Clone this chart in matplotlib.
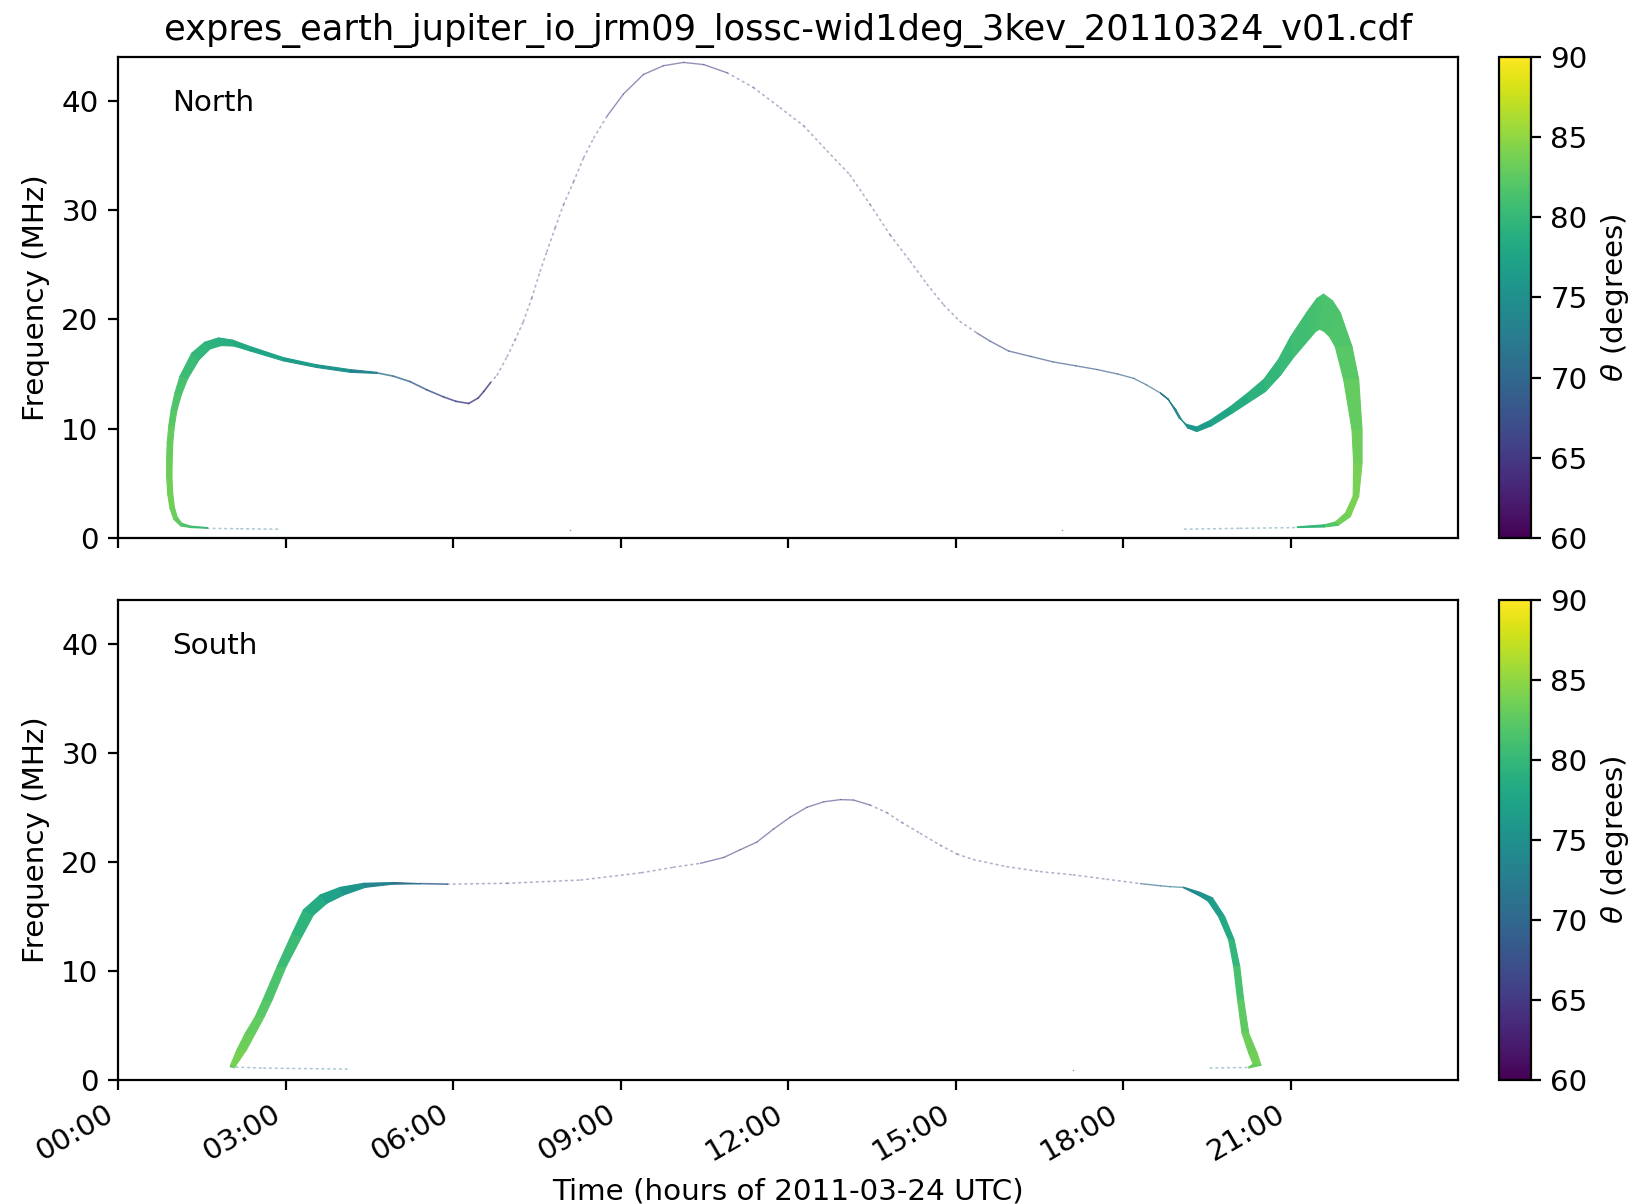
import numpy as np
import matplotlib
matplotlib.use("Agg")
from matplotlib import pyplot as plt
from matplotlib.collections import PolyCollection, LineCollection
from matplotlib.colors import Normalize

plt.rcParams["font.size"] = 10.6

titulo = "expres_earth_jupiter_io_jrm09_lossc-wid1deg_3kev_20110324_v01.cdf"
horas_ticks = [0, 3, 6, 9, 12, 15, 18, 21]
etiquetas_ticks = ["%02d:00" % h for h in horas_ticks]

# ---------------- Hemisferio norte ----------------
# banda ancha izquierda: borde exterior / borde interior (hora UTC, MHz) y theta (grados)
n1_ext_t = [1.60, 1.30, 1.12, 1.00, 0.93, 0.89, 0.87, 0.87, 0.88, 0.91, 0.95, 1.02, 1.11, 1.32, 1.55, 1.80, 2.05, 2.37, 2.96, 3.55, 4.16, 4.64]
n1_ext_f = [0.88, 0.95, 1.10, 1.70, 2.70, 4.00, 5.60, 7.20, 8.70, 10.3, 11.7, 13.3, 14.8, 16.9, 17.9, 18.3, 18.1, 17.5, 16.5, 15.85, 15.4, 15.15]
n1_int_t = [1.60, 1.30, 1.14, 1.06, 1.01, 0.98, 0.965, 0.97, 0.98, 1.01, 1.055, 1.14, 1.25, 1.45, 1.65, 1.85, 2.08, 2.37, 2.96, 3.55, 4.16, 4.64]
n1_int_f = [0.95, 1.08, 1.35, 1.90, 2.80, 4.00, 5.60, 7.20, 8.70, 10.3, 11.7, 13.2, 14.6, 16.3, 17.3, 17.6, 17.55, 17.1, 16.2, 15.6, 15.15, 15.05]
n1_theta = [80, 81, 82, 83, 83.5, 83.5, 83.5, 83, 83, 82.5, 82, 81.5, 81, 80, 79.5, 79, 78.5, 78, 77, 76, 75, 72]

# banda ancha derecha
n2_ext_t = [18.67, 18.80, 18.90, 19.00, 19.13, 19.32, 19.56, 19.92, 20.22, 20.52, 20.78, 21.00, 21.30, 21.47, 21.59, 21.75, 21.89, 22.10, 22.22, 22.28, 22.28, 22.22, 22.07, 21.85, 21.60, 21.12]
n2_ext_f = [13.28, 12.75, 11.9, 11.0, 10.4, 10.15, 10.75, 12.0, 13.2, 14.5, 16.3, 18.4, 20.7, 21.9, 22.3, 21.7, 20.6, 17.5, 14.5, 9.9, 6.8, 3.8, 1.95, 1.15, 1.00, 0.95]
n2_int_t = [18.67, 18.82, 18.95, 19.05, 19.16, 19.32, 19.58, 19.95, 20.25, 20.55, 20.82, 21.05, 21.35, 21.45, 21.52, 21.60, 21.70, 21.80, 21.95, 22.10, 22.13, 22.12, 21.98, 21.80, 21.60, 21.12]
n2_int_f = [13.22, 12.6, 11.7, 10.8, 10.05, 9.73, 10.25, 11.4, 12.4, 13.4, 14.9, 16.5, 18.3, 18.9, 19.1, 18.9, 18.4, 17.5, 14.5, 9.9, 6.8, 3.8, 2.26, 1.45, 1.20, 1.02]
n2_theta = [71, 72.5, 73.5, 74.5, 75.5, 76, 77, 78, 79, 79.5, 80, 80.5, 81, 81, 81.5, 81.5, 81.5, 82, 82.5, 83, 83.5, 84, 84, 83, 81, 79]

# traza fina continua
n_fina_t = [4.64, 4.93, 5.23, 5.53, 5.83, 6.05, 6.28, 6.45, 6.55, 6.67]
n_fina_f = [15.1, 14.8, 14.3, 13.55, 12.9, 12.5, 12.3, 12.8, 13.4, 14.2]
n_fina_theta = [72, 70, 69, 68, 67, 66, 65.5, 65.5, 65, 65]

n_pico_t = [8.76, 9.05, 9.41, 9.77, 10.13, 10.49, 10.91]
n_pico_f = [38.6, 40.6, 42.4, 43.2, 43.5, 43.3, 42.55]
n_pico_theta = [64, 64, 64, 64, 64, 64, 64]

n_meseta_t = [15.38, 15.62, 15.95, 16.35, 16.75, 17.15, 17.54, 17.90, 18.19, 18.42, 18.67]
n_meseta_f = [18.75, 18.0, 17.1, 16.6, 16.1, 15.75, 15.4, 15.0, 14.6, 14.0, 13.25]
n_meseta_theta = [67, 67, 67, 67.5, 68, 68, 68.5, 69, 69.5, 70, 71]

# traza punteada (pocos puntos por encima del umbral)
n_punt1_t = [6.67, 6.79, 6.97, 7.11, 7.26, 7.41, 7.56, 7.68, 7.83, 7.98, 8.16, 8.34, 8.52, 8.76]
n_punt1_f = [14.2, 14.9, 16.6, 18.1, 19.8, 21.95, 24.4, 26.2, 28.4, 30.5, 32.6, 34.8, 36.6, 38.6]
n_punt2_t = [10.91, 11.38, 11.86, 12.28, 12.70, 13.11, 13.47, 13.83, 14.19, 14.49, 14.79, 15.08, 15.38]
n_punt2_f = [42.55, 41.2, 39.35, 37.7, 35.4, 33.2, 30.5, 27.7, 25.3, 23.2, 21.3, 19.8, 18.75]
n_cola1_t = [1.60, 2.20, 2.90]
n_cola1_f = [0.88, 0.84, 0.80]
n_cola2_t = [19.10, 20.10, 21.12]
n_cola2_f = [0.80, 0.88, 0.95]

# ---------------- Hemisferio sur ----------------
s1_ext_t = [2.01, 2.13, 2.28, 2.46, 2.595, 2.85, 3.12, 3.32, 3.62, 3.98, 4.40, 4.93, 5.41]
s1_ext_f = [1.30, 2.77, 4.29, 5.82, 7.34, 10.4, 13.45, 15.59, 16.96, 17.66, 18.03, 18.10, 18.00]
s1_int_t = [2.08, 2.30, 2.46, 2.62, 2.76, 3.01, 3.29, 3.50, 3.74, 4.04, 4.43, 4.93, 5.41]
s1_int_f = [1.10, 2.77, 4.29, 5.82, 7.34, 10.4, 13.14, 15.13, 16.20, 16.96, 17.66, 17.95, 17.98]
s1_theta = [84, 83.5, 83, 82.5, 82, 81, 80, 79, 78, 76.5, 75, 72, 70]

s2_ext_t = [19.08, 19.38, 19.60, 19.82, 19.99, 20.09, 20.16, 20.25, 20.40, 20.47, 20.25]
s2_ext_f = [17.68, 17.20, 16.70, 14.97, 12.84, 10.40, 7.34, 4.29, 2.46, 1.35, 1.10]
s2_int_t = [19.08, 19.36, 19.52, 19.71, 19.89, 19.98, 20.05, 20.13, 20.25, 20.33, 20.25]
s2_int_f = [17.62, 16.90, 16.40, 14.97, 12.84, 10.40, 7.34, 4.29, 2.46, 1.45, 1.20]
s2_theta = [73, 75, 76, 77.5, 79, 80.5, 82, 83, 83.5, 83.5, 82]

s_fina_t = [5.41, 5.90]
s_fina_f = [18.0, 17.95]
s_fina_theta = [70, 68]

s_pico_t = [10.43, 10.85, 11.14, 11.44, 11.74, 12.04, 12.34, 12.64, 12.94, 13.17, 13.47]
s_pico_f = [19.86, 20.4, 21.1, 21.8, 23.0, 24.1, 25.0, 25.5, 25.7, 25.66, 25.2]
s_pico_theta = [64] * len(s_pico_t)

s_meseta_t = [18.31, 18.67, 18.84, 19.08]
s_meseta_f = [18.0, 17.8, 17.72, 17.65]
s_meseta_theta = [69, 71, 72, 73]

s_punt1_t = [5.90, 6.97, 8.29, 9.38, 9.95, 10.43]
s_punt1_f = [17.95, 18.03, 18.33, 19.0, 19.5, 19.86]
s_punt2_t = [13.47, 13.77, 14.04, 14.37, 14.73, 15.03, 15.32, 15.92, 16.52, 17.11, 17.71, 18.31]
s_punt2_f = [25.2, 24.5, 23.6, 22.6, 21.5, 20.7, 20.2, 19.55, 19.1, 18.8, 18.4, 18.0]
s_cola1_t = [2.01, 2.61, 4.10]
s_cola1_f = [1.20, 1.09, 1.00]
s_cola2_t = [19.56, 20.25]
s_cola2_f = [1.10, 1.15]

# puntos sueltos cerca de 0 MHz
sueltos_n_t = [8.10, 16.90]
sueltos_n_f = [0.76, 0.76]
sueltos_s_t = [17.10]
sueltos_s_f = [0.95]

norma = Normalize(vmin=60, vmax=90)
cmapa = "viridis"


def banda(ax, ext_t, ext_f, int_t, int_f, theta):
    # cuadrilateros entre los dos bordes de la banda, coloreados por theta
    quads = []
    valores = []
    for i in range(len(ext_t) - 1):
        quads.append([(ext_t[i], ext_f[i]), (ext_t[i + 1], ext_f[i + 1]),
                      (int_t[i + 1], int_f[i + 1]), (int_t[i], int_f[i])])
        valores.append(0.5 * (theta[i] + theta[i + 1]))
    pc = PolyCollection(quads, array=np.array(valores), cmap=cmapa, norm=norma,
                        edgecolors="face", linewidths=0.4)
    ax.add_collection(pc)
    return pc


def traza(ax, t, f, theta, lw=0.6, alpha=0.8, ls="solid"):
    segs = [[(t[i], f[i]), (t[i + 1], f[i + 1])] for i in range(len(t) - 1)]
    vals = [0.5 * (theta[i] + theta[i + 1]) for i in range(len(t) - 1)]
    lc = LineCollection(segs, array=np.array(vals), cmap=cmapa, norm=norma,
                        linewidths=lw, alpha=alpha, linestyles=ls, capstyle="round")
    ax.add_collection(lc)


def punteada(ax, t, f, theta=64):
    traza(ax, t, f, [theta] * len(t), lw=0.6, alpha=0.38, ls=(0, (1, 2.5)))


fig = plt.figure(figsize=(8.175, 6.02), dpi=200)
ax_n = fig.add_axes([0.0722, 0.5532, 0.8196, 0.3995])
ax_s = fig.add_axes([0.0722, 0.1030, 0.8196, 0.3987], sharex=ax_n)
cax_n = fig.add_axes([0.9168, 0.5532, 0.0196, 0.3995])
cax_s = fig.add_axes([0.9168, 0.1030, 0.0196, 0.3987])

# Norte
m_n = banda(ax_n, n1_ext_t, n1_ext_f, n1_int_t, n1_int_f, n1_theta)
banda(ax_n, n2_ext_t, n2_ext_f, n2_int_t, n2_int_f, n2_theta)
traza(ax_n, n_fina_t, n_fina_f, n_fina_theta)
traza(ax_n, n_pico_t, n_pico_f, n_pico_theta, lw=0.5, alpha=0.55)
traza(ax_n, n_meseta_t, n_meseta_f, n_meseta_theta, lw=0.5, alpha=0.65)
punteada(ax_n, n_punt1_t, n_punt1_f)
punteada(ax_n, n_punt2_t, n_punt2_f)
punteada(ax_n, n_cola1_t, n_cola1_f, 72)
punteada(ax_n, n_cola2_t, n_cola2_f, 72)
ax_n.scatter(sueltos_n_t, sueltos_n_f, s=0.3, c="0.6", linewidths=0)

# Sur
m_s = banda(ax_s, s1_ext_t, s1_ext_f, s1_int_t, s1_int_f, s1_theta)
banda(ax_s, s2_ext_t, s2_ext_f, s2_int_t, s2_int_f, s2_theta)
traza(ax_s, s_fina_t, s_fina_f, s_fina_theta)
traza(ax_s, s_pico_t, s_pico_f, s_pico_theta, lw=0.5, alpha=0.55)
traza(ax_s, s_meseta_t, s_meseta_f, s_meseta_theta, lw=0.5, alpha=0.65)
punteada(ax_s, s_punt1_t, s_punt1_f)
punteada(ax_s, s_punt2_t, s_punt2_f)
punteada(ax_s, s_cola1_t, s_cola1_f, 72)
punteada(ax_s, s_cola2_t, s_cola2_f, 72)
ax_s.scatter(sueltos_s_t, sueltos_s_f, s=0.3, c="0.6", linewidths=0)

for ax, nombre in [(ax_n, "North"), (ax_s, "South")]:
    ax.set_xlim(0, 24)
    ax.set_ylim(0, 44)
    ax.set_yticks([0, 10, 20, 30, 40])
    ax.set_ylabel("Frequency (MHz)")
    ax.text(0.04, 0.905, nombre, transform=ax.transAxes, va="center", ha="left")
    ax.set_xticks(horas_ticks)

ax_n.tick_params(axis="x", labelbottom=False)
ax_s.set_xticklabels(etiquetas_ticks, rotation=30, ha="right")
ax_s.set_xlabel("Time (hours of 2011-03-24 UTC)")
ax_n.set_title(titulo, fontsize=12.7)

for cax, m in [(cax_n, m_n), (cax_s, m_s)]:
    cb = fig.colorbar(m, cax=cax)
    cb.set_ticks([60, 65, 70, 75, 80, 85, 90])
    cb.set_label(r"$\theta$ (degrees)")

fig.savefig("out.png", dpi=200)
